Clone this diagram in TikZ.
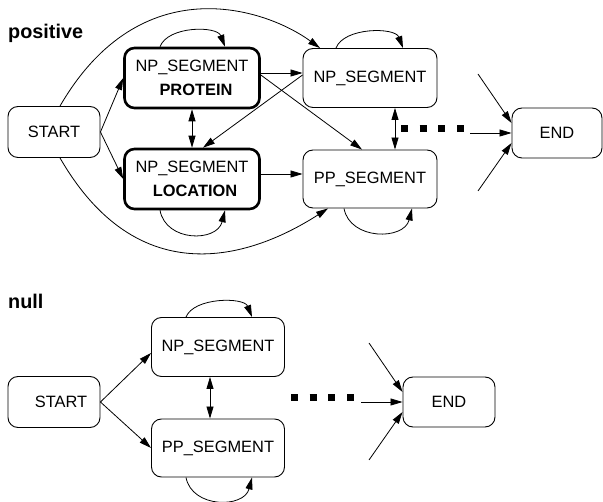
\documentclass[tikz,border=0pt]{standalone}
\usepackage{fontspec}
\setmainfont{Liberation Sans}
\usetikzlibrary{arrows.meta}
\begin{document}
\begin{tikzpicture}[x=1pt,y=-1pt,
  box/.style={draw, rounded corners=10pt, line width=0.9pt, inner sep=0pt,
    font=\fontsize{16.4}{24.5}\selectfont, align=center},
  thickbox/.style={box, line width=2.6pt},
  conn/.style={line width=0.8pt, -{Triangle[length=12pt,width=7pt]}},
  dconn/.style={line width=0.8pt, {Triangle[length=12pt,width=7pt]}-{Triangle[length=12pt,width=7pt]}},
  lbl/.style={font=\fontsize{19.8}{24}\selectfont\bfseries, anchor=base west, inner sep=0pt},
  dots/.style={line width=7pt, dash pattern=on 7pt off 11.7pt}
]
\useasboundingbox (0,0) rectangle (603,502);

% ---------------- positive ----------------
\node[lbl] (lpos) at (8,39) {positive};
\node[box, minimum width=92pt, minimum height=51pt] (tS) at (54,132) {START};
\node[thickbox, minimum width=135pt, minimum height=60pt] (tP) at (192,78) {NP\_SEGMENT\\\hspace*{8pt}\textbf{PROTEIN}};
\node[thickbox, minimum width=135pt, minimum height=60pt] (tL) at (192,179) {NP\_SEGMENT\\\hspace*{6pt}\textbf{LOCATION}};
\node[box, minimum width=134pt, minimum height=59pt] (tN) at (370,78) {NP\_SEGMENT};
\node[box, minimum width=134pt, minimum height=58pt] (tPP) at (370,179) {PP\_SEGMENT};
\node[box, minimum width=90pt, minimum height=50pt] (tE) at (557,133) {END};

\draw[conn] (tS.east) -- (tP.west);
\draw[conn] (tS.east) -- (tL.west);
\draw[conn] ([yshift=5pt]tP.east) -- ([yshift=5pt]tN.west);
\draw[conn] ([yshift=5pt]tL.east) -- ([yshift=5pt]tPP.west);
\draw[conn] ([yshift=3pt]tP.east) -- ([xshift=-8pt]tPP.north);
\draw[conn] ([yshift=3pt]tN.west) -- ([xshift=11pt]tL.north);
\draw[dconn] (tP.south) -- (tL.north);
\draw[dconn] ([xshift=25pt]tN.south) -- ([xshift=25pt]tPP.north);

\draw[conn] ([xshift=-32pt]tP.north) .. controls +(8,-21) and +(-8,-21) .. ([xshift=33pt]tP.north);
\draw[conn] ([xshift=-34pt]tN.north) .. controls +(8,-21) and +(-8,-21) .. ([xshift=33pt]tN.north);
\draw[conn] ([xshift=-32pt]tL.south) .. controls +(6,32) and +(-8,32) .. ([xshift=33pt]tL.south);
\draw[conn] ([xshift=-26pt]tPP.south) .. controls +(6,32) and +(-8,32) .. ([xshift=42pt]tPP.south);

\draw[conn] ([xshift=6pt]tS.north) .. controls (141,-33.5) and (265.6,8.4) .. ([xshift=-50pt]tN.north);
\draw[conn] ([xshift=6pt]tS.south) .. controls (142.8,301.4) and (261.2,251.4) .. ([xshift=-42pt]tPP.south);

\draw[dots] (401,129) -- (464,129);
\coordinate (ta1) at (478,74);
\coordinate (ta2) at (470,133);
\coordinate (ta3) at (478,191);
\draw[conn] (ta1) -- ([yshift=10pt]tE.west);
\draw[conn] (ta2) -- (tE.west);
\draw[conn] (ta3) -- ([yshift=-10pt]tE.west);

% ---------------- null ----------------
\node[lbl] (lnull) at (8,309) {null};
\node[box, minimum width=92pt, minimum height=51pt] (bS) at (54,402) {\hspace*{14pt}START};
\node[box, minimum width=133pt, minimum height=59pt] (bN) at (218,347) {NP\_SEGMENT};
\node[box, minimum width=133pt, minimum height=58pt] (bP) at (218,448) {PP\_SEGMENT};
\node[box, minimum width=92pt, minimum height=50pt] (bE) at (449,402) {END};

\draw[conn] (bS.east) -- ([yshift=-6pt]bN.west);
\draw[conn] (bS.east) -- (bP.west);
\draw[dconn] ([xshift=-8pt]bN.south) -- ([xshift=-8pt]bP.north);
\draw[conn] ([xshift=-32pt]bN.north) .. controls +(8,-20) and +(-8,-20) .. ([xshift=34pt]bN.north);
\draw[conn] ([xshift=-32pt]bP.south) .. controls +(6,31) and +(-8,31) .. ([xshift=34pt]bP.south);

\draw[dots] (291,398) -- (354,398);
\coordinate (ba1) at (369,343);
\coordinate (ba2) at (361,402);
\coordinate (ba3) at (369,460);
\draw[conn] (ba1) -- ([yshift=10pt]bE.west);
\draw[conn] (ba2) -- (bE.west);
\draw[conn] (ba3) -- ([yshift=-10pt]bE.west);
\end{tikzpicture}
\end{document}
